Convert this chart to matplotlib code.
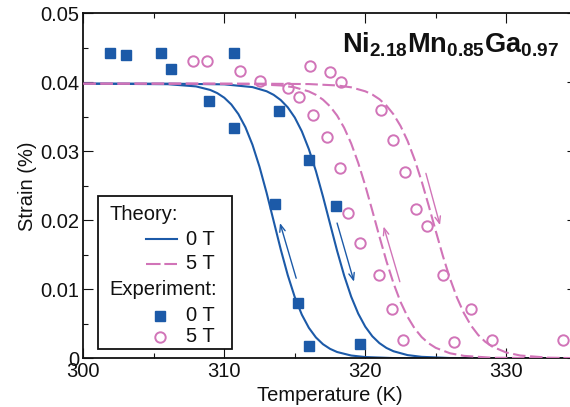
import matplotlib
matplotlib.use("Agg")
import matplotlib.pyplot as plt
from matplotlib.lines import Line2D
from matplotlib.patches import Rectangle
from matplotlib.ticker import FuncFormatter, MultipleLocator

plt.rcParams["font.family"] = ["Liberation Sans", "DejaVu Sans"]
plt.rcParams["mathtext.fontset"] = "custom"
plt.rcParams["mathtext.rm"] = "Liberation Sans"
plt.rcParams["mathtext.bf"] = "Liberation Sans:bold"

BLUE = "#1c5aa8"
PINK = "#d174b8"

# experiment, 0 T (temperature in K, strain in %)
exp0_T = [301.9, 303.0, 305.5, 306.2, 308.9, 310.7, 310.7, 313.9, 316.0,
          313.6, 315.2, 316.0, 317.9, 319.6]
exp0_s = [0.0443, 0.0440, 0.0442, 0.0419, 0.0373, 0.0334, 0.0442, 0.0358, 0.0287,
          0.0224, 0.0080, 0.0018, 0.0220, 0.0020]

# experiment, 5 T
exp5_T = [307.8, 308.8, 311.1, 312.5, 314.5, 315.3, 316.1, 317.5, 318.3,
          316.3, 317.3, 318.2, 318.8, 319.6, 321.0, 321.9, 322.7, 321.1,
          322.0, 322.8, 323.6, 324.4, 325.5, 327.5, 326.3, 329.0, 334.0]
exp5_s = [0.0431, 0.0431, 0.0416, 0.0402, 0.0392, 0.0378, 0.0424, 0.0415, 0.0400,
          0.0353, 0.0321, 0.0276, 0.0210, 0.0167, 0.0121, 0.0072, 0.0026, 0.0360,
          0.0316, 0.0270, 0.0216, 0.0191, 0.0121, 0.0072, 0.0024, 0.0026, 0.0027]

# theory, 0 T: two branches of the hysteresis loop
th0a_T = [300, 306, 308, 309, 309.5, 310, 310.5, 311, 311.5, 312, 312.5, 313, 313.5,
          314, 314.5, 315, 315.5, 316, 316.5, 317, 317.5, 318, 319, 320, 322, 325, 335]
th0a_s = [0.03980, 0.03972, 0.03940, 0.03889, 0.03843, 0.03776, 0.03678, 0.03539,
          0.03348, 0.03094, 0.02774, 0.02399, 0.01990, 0.01581, 0.01206, 0.00886,
          0.00632, 0.00441, 0.00302, 0.00204, 0.00137, 0.00091, 0.00040, 0.00018,
          0.00003, 0.0, 0.0]

th0b_T = [300, 306, 310, 312, 313, 313.5, 314, 314.5, 315, 315.5, 316, 316.5, 317,
          317.5, 318, 318.5, 319, 319.5, 320, 320.5, 321, 321.5, 322, 323, 324, 326, 335]
th0b_s = [0.03980, 0.03980, 0.03970, 0.03930, 0.03870, 0.03818, 0.03743, 0.03637,
          0.03489, 0.03289, 0.03030, 0.02712, 0.02344, 0.01950, 0.01559, 0.01200,
          0.00893, 0.00647, 0.00458, 0.00319, 0.00220, 0.00150, 0.00102, 0.00046,
          0.00021, 0.00004, 0.0]

# theory, 5 T
th5a_T = [300, 308, 312, 314, 315, 316, 316.5, 317, 317.5, 318, 318.5, 319, 319.5,
          320, 320.5, 321, 321.5, 322, 322.5, 323, 323.5, 324, 324.5, 325, 326, 327,
          329, 335]
th5a_s = [0.03980, 0.03980, 0.03974, 0.03954, 0.03926, 0.03867, 0.03818, 0.03748,
          0.03651, 0.03518, 0.03341, 0.03113, 0.02831, 0.02502, 0.02139, 0.01766,
          0.01408, 0.01088, 0.00817, 0.00600, 0.00432, 0.00307, 0.00216, 0.00151,
          0.00073, 0.00035, 0.00008, 0.0]

th5b_T = [300, 312, 316, 318, 319, 320, 320.5, 321, 321.5, 322, 322.5, 323, 323.5,
          324, 324.5, 325, 325.5, 326, 326.5, 327, 327.5, 328, 328.5, 329, 330, 331,
          333, 335]
th5b_s = [0.03980, 0.03980, 0.03974, 0.03954, 0.03927, 0.03869, 0.03822, 0.03755,
          0.03662, 0.03536, 0.03367, 0.03150, 0.02880, 0.02563, 0.02210, 0.01843,
          0.01485, 0.01160, 0.00880, 0.00652, 0.00474, 0.00340, 0.00241, 0.00170,
          0.00083, 0.00040, 0.00009, 0.00002]

# arrows showing the sweep direction: (T_start, s_start, T_end, s_end)
arrows_0T = [(315.1, 0.0116, 313.95, 0.0196), (318.0, 0.0196, 319.2, 0.0111)]
arrows_5T = [(322.45, 0.0111, 321.3, 0.0191), (324.3, 0.0268, 325.3, 0.0193)]

fig = plt.figure(figsize=(5.7, 4.07), dpi=100)
ax = fig.add_axes([0.1461, 0.1197, 0.8658, 0.8477])

dash = (6, 2.2)
ax.plot(th0a_T, th0a_s, color=BLUE, lw=1.5, zorder=2)
ax.plot(th0b_T, th0b_s, color=BLUE, lw=1.5, zorder=2)
ax.plot(th5a_T, th5a_s, color=PINK, lw=1.5, dashes=dash, zorder=3)
ax.plot(th5b_T, th5b_s, color=PINK, lw=1.5, dashes=dash, zorder=3)

ax.plot(exp0_T, exp0_s, "s", color=BLUE, ms=7, mec=BLUE, zorder=5)
ax.plot(exp5_T, exp5_s, "o", ms=7.5, mfc="none", mec=PINK, mew=1.4, zorder=5)

for color, group in ((BLUE, arrows_0T), (PINK, arrows_5T)):
    for t0, s0, t1, s1 in group:
        ax.annotate("", xy=(t1, s1), xytext=(t0, s0),
                    arrowprops=dict(arrowstyle="->,head_length=0.5,head_width=0.2",
                                    color=color, lw=1.0, shrinkA=0, shrinkB=0))

ax.set_xlim(300, 335)
ax.set_ylim(0, 0.05)
ax.xaxis.set_major_locator(MultipleLocator(10))
ax.xaxis.set_minor_locator(MultipleLocator(5))
ax.yaxis.set_major_locator(MultipleLocator(0.01))
ax.yaxis.set_minor_locator(MultipleLocator(0.005))
ax.yaxis.set_major_formatter(FuncFormatter(lambda v, _: "0" if abs(v) < 1e-9 else f"{v:.2f}"))
ax.tick_params(which="both", direction="in", top=True, right=True, labelsize=14.5,
               colors="#111111")
ax.tick_params(which="major", length=7, width=0.8, pad=3)
ax.tick_params(which="minor", length=3.5, width=0.8)
for sp in ax.spines.values():
    sp.set_linewidth(1.3)
    sp.set_color("#111111")

ax.set_xlabel("Temperature (K)", fontsize=14.5, labelpad=3, color="#111111")
ax.set_ylabel("Strain (%)", fontsize=14.5, labelpad=2, color="#111111")

ax.text(0.5236, 0.885, r"$\mathbf{Ni_{2.18}Mn_{0.85}Ga_{0.97}}$", transform=ax.transAxes,
        fontsize=19.5, ha="left", va="baseline", color="#111111")

# hand-built legend box with group headers
tr = ax.transAxes
ax.add_patch(Rectangle((0.0298, 0.027), 0.2715, 0.4434, transform=tr, facecolor="white",
                       edgecolor="#111111", lw=1.3, zorder=6))
kw = dict(transform=tr, fontsize=14.5, va="center", color="#111111", zorder=7)
ax.text(0.0527, 0.4154, "Theory:", **kw)
ax.add_line(Line2D([0.127, 0.1905], [0.345, 0.345], transform=tr, color=BLUE, lw=1.5, zorder=7))
ax.text(0.2081, 0.345, "0 T", **kw)
ax.add_line(Line2D([0.127, 0.1905], [0.2733, 0.2733], transform=tr, color=PINK, lw=1.5,
                   dashes=(7, 1.8), zorder=7))
ax.text(0.2081, 0.2733, "5 T", **kw)
ax.text(0.0527, 0.198, "Experiment:", **kw)
ax.add_line(Line2D([0.1554], [0.1226], transform=tr, marker="s", ms=7, color=BLUE,
                   ls="none", zorder=7))
ax.text(0.2081, 0.1226, "0 T", **kw)
ax.add_line(Line2D([0.1554], [0.0626], transform=tr, marker="o", ms=7.5, mfc="none",
                   mec=PINK, mew=1.4, ls="none", zorder=7))
ax.text(0.2081, 0.0626, "5 T", **kw)

fig.savefig("out.png", dpi=100)
